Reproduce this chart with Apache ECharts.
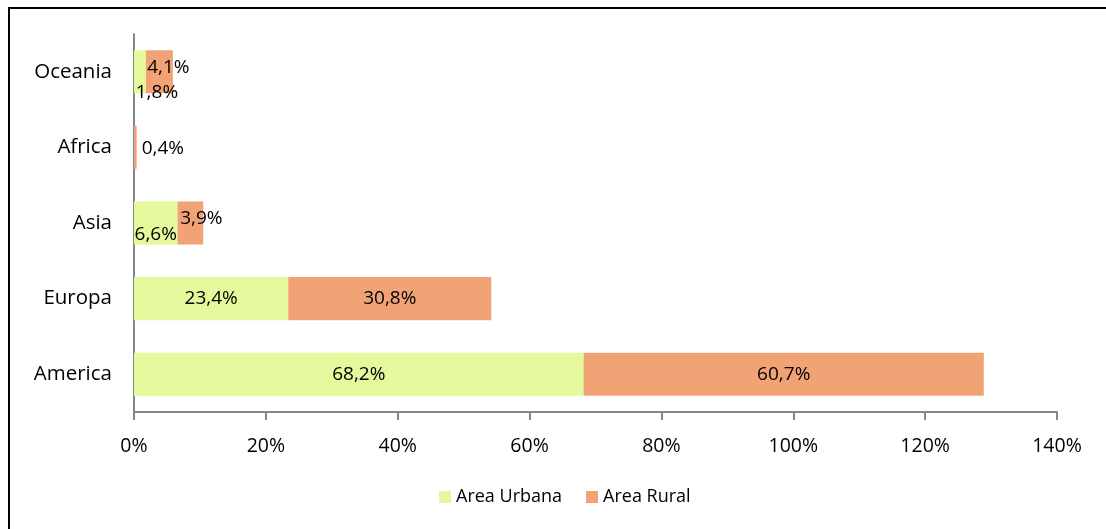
<!DOCTYPE html>
<html>
<head>
<meta charset="utf-8">
<script src="https://cdn.jsdelivr.net/npm/echarts@6/dist/echarts.min.js"></script>
<style>
  html, body { margin: 0; padding: 0; background: #fff; }
  #chart { width: 1106px; height: 529px; }
</style>
</head>
<body>
<div id="chart"></div>
<script>
// Share of each continent, split into urban and rural area (percent)
const regions = ['America', 'Europa', 'Asia', 'Africa', 'Oceania'];
const urbanValues = [68.2, 23.4, 6.6, null, 1.8];
const ruralValues = [60.7, 30.8, 3.9, 0.4, 4.1];
const xTicks = [0, 20, 40, 60, 80, 100, 120, 140];

const FONT = '"Open Sans", "Noto Sans", sans-serif';
const fmt = v => String(v).replace('.', ',') + '%';

// Labels on the short bars are nudged apart so they stay readable
const urbanLabelShift = { Asia: [0, 12], Oceania: [17, 21] };
const ruralLabelShift = { Asia: [11, -4], Oceania: [9, -4] };

function buildData(values, shifts, isRural) {
  return values.map((v, i) => {
    const name = regions[i];
    const item = { value: v };
    if (name === 'Africa' && isRural) {
      item.label = { position: 'right', distance: 5, offset: [0, 1] };
    } else if (shifts[name]) {
      item.label = { offset: shifts[name] };
    }
    return item;
  });
}

const chart = echarts.init(document.getElementById('chart'), null, { renderer: 'canvas' });

const labelStyle = {
  show: true,
  position: 'inside',
  color: '#000',
  fontFamily: FONT,
  fontSize: 19,
  formatter: p => (p.value == null ? '' : fmt(p.value))
};

chart.setOption({
  animation: false,
  backgroundColor: '#fff',
  graphic: [{
    type: 'rect',
    shape: { x: 9, y: 8, width: 1110, height: 540 },
    style: { fill: 'none', stroke: '#000', lineWidth: 2 },
    silent: true
  }],
  grid: { left: 134, right: 49, top: 34, bottom: 117, containLabel: false },
  legend: {
    top: 483,
    left: 434,
    itemWidth: 12,
    itemHeight: 12,
    itemGap: 24,
    icon: 'rect',
    textStyle: { fontFamily: FONT, fontSize: 18, color: '#000' },
    data: ['Area Urbana', 'Area Rural']
  },
  xAxis: {
    type: 'value',
    min: xTicks[0],
    max: xTicks[xTicks.length - 1],
    interval: 20,
    splitLine: { show: false },
    axisLine: { show: true, lineStyle: { color: '#868686', width: 2 } },
    axisTick: { show: true, length: 8, lineStyle: { color: '#868686', width: 2 } },
    axisLabel: {
      margin: 24,
      color: '#000',
      fontFamily: FONT,
      fontSize: 19.5,
      formatter: v => v + '%'
    }
  },
  yAxis: {
    type: 'category',
    data: regions,
    axisLine: { show: true, lineStyle: { color: '#868686', width: 2 } },
    axisTick: { show: false },
    axisLabel: { margin: 22, color: '#000', fontFamily: FONT, fontSize: 20.5 }
  },
  series: [
    {
      name: 'Area Urbana',
      type: 'bar',
      stack: 'area',
      barWidth: '57%',
      itemStyle: { color: '#E4F99B' },
      label: labelStyle,
      data: buildData(urbanValues, urbanLabelShift, false)
    },
    {
      name: 'Area Rural',
      type: 'bar',
      stack: 'area',
      barWidth: '57%',
      itemStyle: { color: '#F2A376' },
      label: labelStyle,
      data: buildData(ruralValues, ruralLabelShift, true)
    }
  ]
});
</script>
</body>
</html>
